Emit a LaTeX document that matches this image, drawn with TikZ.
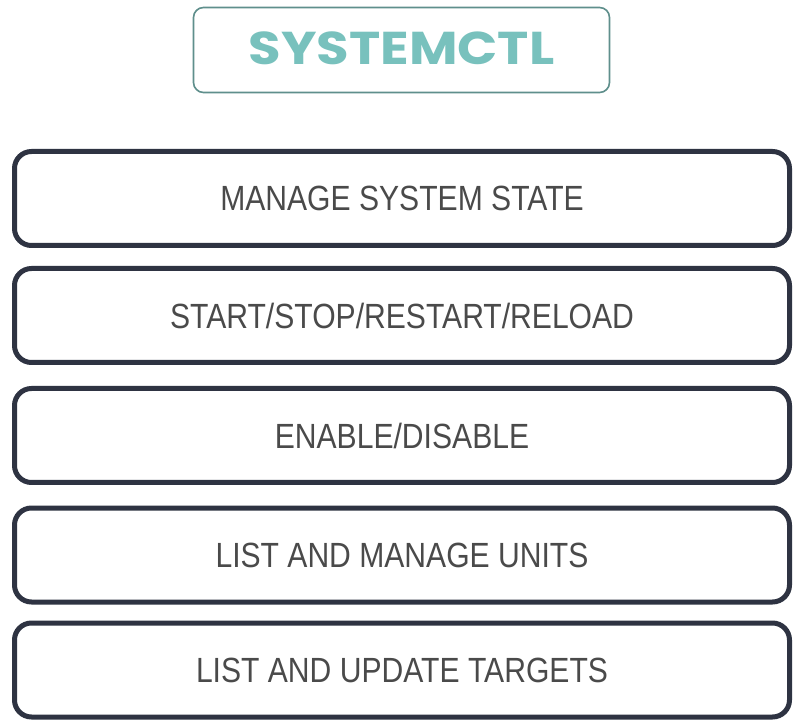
\documentclass[tikz,border=0pt]{standalone}
\usepackage{fontspec}
\setmainfont{Liberation Sans}
\newfontfamily\itemfont[FakeStretch=0.86]{Liberation Sans}
\newfontfamily\titlefont[FakeStretch=1.15]{Poppins}
\definecolor{boxline}{HTML}{2E3342}
\definecolor{itemtext}{HTML}{4A4A4A}
\definecolor{titleteal}{HTML}{78C1BD}
\definecolor{titleline}{HTML}{5F8F8C}
\tikzset{
  titlebox/.style={draw=titleline, line width=1.6pt, rounded corners=10pt, fill=white,
    minimum width=416pt, minimum height=85pt, inner sep=0pt,
    text=titleteal, font=\titlefont\bfseries\fontsize{46}{50}\selectfont},
  itembox/.style={draw=boxline, line width=5pt, rounded corners=17pt, fill=white,
    minimum width=775pt, minimum height=94pt, inner sep=0pt,
    text=itemtext, font=\itemfont\fontsize{35}{40}\selectfont}
}
\begin{document}
\begin{tikzpicture}[x=1pt, y=-1pt]
  \useasboundingbox[fill=white] (0,0) rectangle (804,727);
  \node[titlebox] (title) at (401.5,50) {\raisebox{3pt}{SYSTEMCTL}};
  \node[itembox] (state)   at (402,198.5) {MANAGE SYSTEM STATE};
  \node[itembox] (start)   at (402,315.5) {START/STOP/RESTART/RELOAD};
  \node[itembox] (enable)  at (402,435.5) {ENABLE/DISABLE};
  \node[itembox] (units)   at (402,555)   {LIST AND MANAGE UNITS};
  \node[itembox] (targets) at (402,670)   {LIST AND UPDATE TARGETS};
\end{tikzpicture}
\end{document}
